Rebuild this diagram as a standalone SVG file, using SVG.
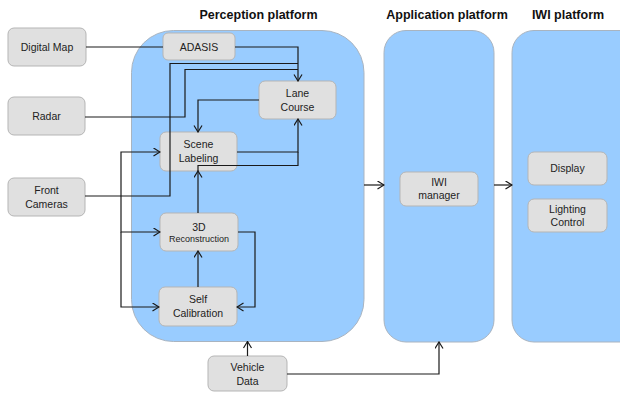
<svg xmlns="http://www.w3.org/2000/svg" width="620" height="394" viewBox="0 0 620 394">
<defs>
<style>
.plat{fill:#99ccff;stroke:#a9b4c0;stroke-width:1}
.node rect{fill:#e0e0e0;stroke:#b5b5b5;stroke-width:1}
text{font-family:"Liberation Sans",Arial,sans-serif;fill:#222}
.t{font-size:10.5px;text-anchor:middle}
.s{font-size:9px;text-anchor:middle}
.title{font-size:12.5px;font-weight:bold;text-anchor:middle;fill:#111}
.c{fill:none;stroke:#1a1a1a;stroke-width:1.2}
</style>
<marker id="a" markerWidth="8" markerHeight="10" refX="7" refY="4.5" orient="auto" markerUnits="userSpaceOnUse">
<path d="M0.5,0.5 L7,4.5 L0.5,8.5" fill="none" stroke="#1a1a1a" stroke-width="1.2"/>
</marker>
</defs>
<rect width="620" height="394" fill="#fff"/>
<text class="title" x="258.5" y="19">Perception platform</text>
<text class="title" x="447" y="19">Application platform</text>
<text class="title" x="568" y="19">IWI platform</text>
<g id="perception"><rect class="plat" x="131.5" y="30.5" width="232.5" height="311" rx="42" ry="42"/></g>
<g id="application"><rect class="plat" x="384" y="30.5" width="110" height="311.5" rx="22" ry="22"/></g>
<g id="iwi"><rect class="plat" x="512" y="30.5" width="140" height="311.5" rx="22" ry="22"/></g>
<g id="digitalmap" class="node"><rect x="8" y="28" width="78" height="38" rx="6"/><text class="t" x="47" y="51">Digital Map</text></g>
<g id="radar" class="node"><rect x="8" y="97" width="77" height="38" rx="6"/><text class="t" x="46.5" y="120">Radar</text></g>
<g id="frontcameras" class="node"><rect x="8" y="178" width="77" height="38" rx="6"/><text class="t" x="46.5" y="194">Front</text><text class="t" x="46.5" y="207.5">Cameras</text></g>
<g id="adasis" class="node"><rect x="163" y="33" width="72" height="27" rx="5"/><text class="t" x="199" y="50.5">ADASIS</text></g>
<g id="lanecourse" class="node"><rect x="259" y="81" width="77" height="38" rx="6"/><text class="t" x="297.5" y="97">Lane</text><text class="t" x="297.5" y="110.5">Course</text></g>
<g id="scenelabeling" class="node"><rect x="160" y="132" width="77" height="39" rx="6"/><text class="t" x="198.5" y="148">Scene</text><text class="t" x="198.5" y="161.5">Labeling</text></g>
<g id="reconstruction" class="node"><rect x="160" y="213" width="78" height="38" rx="6"/><text class="t" x="199" y="230.5">3D</text><text class="s" x="199" y="241.5">Reconstruction</text></g>
<g id="selfcalibration" class="node"><rect x="159" y="287" width="78" height="39" rx="6"/><text class="t" x="198" y="303">Self</text><text class="t" x="198" y="316.5">Calibration</text></g>
<g id="vehicledata" class="node"><rect x="208" y="356" width="79" height="35" rx="6"/><text class="t" x="247.5" y="371">Vehicle</text><text class="t" x="247.5" y="384.5">Data</text></g>
<g id="iwimanager" class="node"><rect x="400" y="172" width="78" height="34" rx="6"/><text class="t" x="439" y="186">IWI</text><text class="t" x="439" y="199">manager</text></g>
<g id="display" class="node"><rect x="528" y="152" width="79" height="33" rx="6"/><text class="t" x="567.5" y="172">Display</text></g>
<g id="lightingcontrol" class="node"><rect x="528" y="199" width="79" height="33" rx="6"/><text class="t" x="567.5" y="213">Lighting</text><text class="t" x="567.5" y="226">Control</text></g>
<g id="connectors">
<path class="c" d="M86,47 H163"/>
<path class="c" d="M235,47 H298 V81" marker-end="url(#a)"/>
<path class="c" d="M85,196 H170 V63.5 H298"/>
<path class="c" d="M85,117 H185 V69.5 H298"/>
<path class="c" d="M259,100 H198 V132" marker-end="url(#a)"/>
<path class="c" d="M237,152 H298 V119" marker-end="url(#a)"/>
<path class="c" d="M198,171 V165.5 H298 V152"/>
<path class="c" d="M198,213 V171" marker-end="url(#a)"/>
<path class="c" d="M121,196 V152 H160" marker-end="url(#a)"/>
<path class="c" d="M121,196 V232 H160" marker-end="url(#a)"/>
<path class="c" d="M121,232 V307 H159" marker-end="url(#a)"/>
<path class="c" d="M238,232 H255 V307 H237" marker-end="url(#a)"/>
<path class="c" d="M198,287 V251" marker-end="url(#a)"/>
<path class="c" d="M247.5,356 V341.5" marker-end="url(#a)"/>
<path class="c" d="M287,374 H439 V342" marker-end="url(#a)"/>
<path class="c" d="M364,185 H384" marker-end="url(#a)"/>
<path class="c" d="M494,185 H512" marker-end="url(#a)"/>
</g>
</svg>
